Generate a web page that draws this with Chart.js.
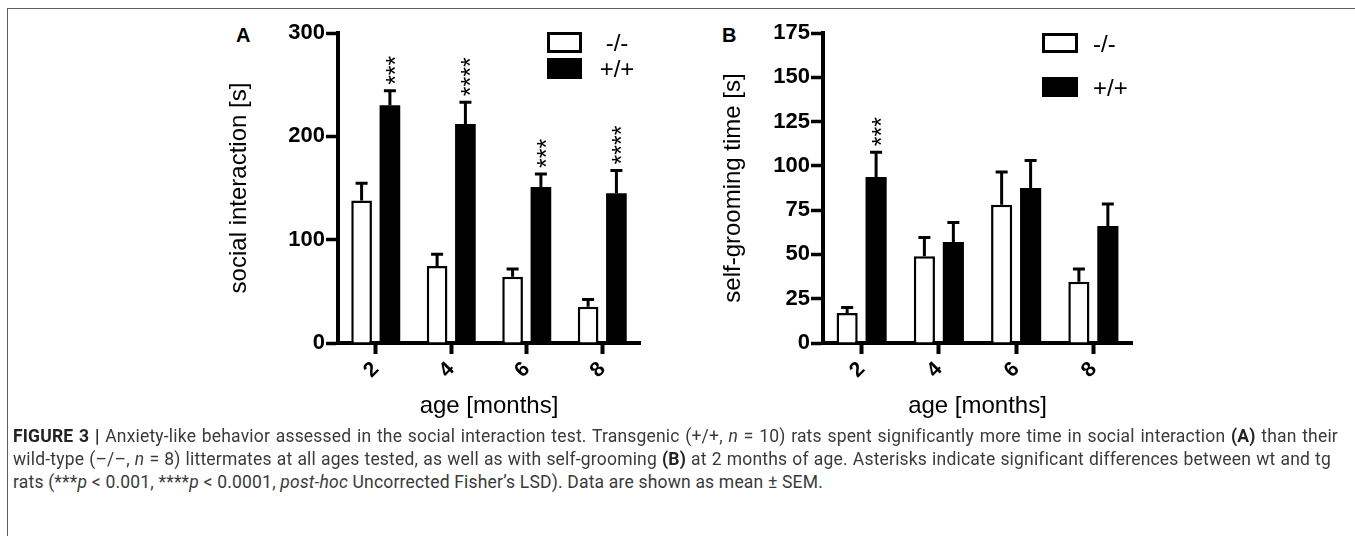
<!DOCTYPE html>
<html><head><meta charset="utf-8">
<script src="https://cdn.jsdelivr.net/npm/chart.js@4.4.1/dist/chart.umd.min.js"></script>
<style>
html,body{margin:0;padding:0;background:#fff;}
body{width:1355px;height:536px;position:relative;overflow:hidden;font-family:"Liberation Sans",Arial,sans-serif;}
#frame{position:absolute;left:7px;top:8px;width:1400px;height:600px;border-top:1.5px solid #5e5e5e;border-left:1.5px solid #5e5e5e;}
.wrap{position:absolute;top:0;height:430px;}
#wa{left:200px;width:460px;}
#wb{left:680px;width:470px;}
.plabel{position:absolute;font-weight:bold;font-size:20px;line-height:24px;color:#000;}
.cap{position:absolute;left:13px;font-family:Roboto,"Liberation Sans",sans-serif;font-size:17.5px;line-height:23px;color:#3a3a3a;white-space:nowrap;}
.cap b{color:#222;font-weight:bold;}
</style>
</head><body>
<div id="frame"></div>
<div class="plabel" style="left:236px;top:23px;">A</div>
<div class="plabel" style="left:722px;top:23px;">B</div>
<div class="wrap" id="wa"><canvas id="ca" width="460" height="430"></canvas></div>
<div class="wrap" id="wb"><canvas id="cb" width="470" height="430"></canvas></div>
<div class="cap" style="top:425px;"><span class="j" data-w="1325"><b>FIGURE 3 |</b> Anxiety-like behavior assessed in the social interaction test. Transgenic (+/+, <i>n</i> = 10) rats spent significantly more time in social interaction <b>(A)</b> than their</span></div>
<div class="cap" style="top:448px;"><span class="j" data-w="1318">wild-type (–/–, <i>n</i> = 8) littermates at all ages tested, as well as with self-grooming <b>(B)</b> at 2 months of age. Asterisks indicate significant differences between wt and tg</span></div>
<div class="cap" style="top:471px;"><span id="l3">rats (***<i>p</i> &lt; 0.001, ****<i>p</i> &lt; 0.0001, <i>post-hoc</i> Uncorrected Fisher’s LSD). Data are shown as mean ± SEM.</span></div>
<script>
// ---- data ----
const ages = ['2', '4', '6', '8'];
const seriesLabels = ['-/-', '+/+'];

const socialKO    = [138, 74.5, 64, 35];
const socialKOsem = [16.5, 11.5, 7.5, 7];
const socialWT    = [230, 212, 151, 145];
const socialWTsem = [14, 21, 12.5, 22];
const socialStars = ['***', '****', '***', '****'];
const socialTicks = [0, 100, 200, 300];

const groomKO    = [17, 49, 78, 34.6];
const groomKOsem = [3, 10.5, 18.5, 7.2];
const groomWT    = [93.7, 57, 87.5, 66];
const groomWTsem = [14, 11, 15.5, 12.5];
const groomStars = ['***', '', '', ''];
const groomTicks = [0, 25, 50, 75, 100, 125, 150, 175];

// caption fitting: condense letters so the last line matches, then justify the full lines
(function () {
  const l3 = document.getElementById('l3');
  const w3 = l3.getBoundingClientRect().width;
  const ls = (810 - w3) / l3.textContent.length;
  document.querySelectorAll('.cap span').forEach(s => { s.style.letterSpacing = ls + 'px'; });
  document.querySelectorAll('.j').forEach(s => {
    const target = +s.dataset.w;
    const w = s.getBoundingClientRect().width;
    const spaces = (s.textContent.match(/ /g) || []).length;
    s.style.wordSpacing = ((target - w) / spaces) + 'px';
  });
})();

const FONT = "'Liberation Sans', Arial, sans-serif";

const errPlugin = {
  id: 'errbars',
  afterDatasetsDraw(chart, args, opts) {
    const ctx = chart.ctx, y = chart.scales.y;
    chart.data.datasets.forEach((ds, di) => {
      const meta = chart.getDatasetMeta(di);
      meta.data.forEach((bar, i) => {
        const top = y.getPixelForValue(ds.data[i] + ds.sem[i]);
        ctx.save();
        ctx.strokeStyle = '#000';
        ctx.lineWidth = 3;
        ctx.beginPath();
        ctx.moveTo(bar.x, bar.y);
        ctx.lineTo(bar.x, top);
        ctx.moveTo(bar.x - 6, top);
        ctx.lineTo(bar.x + 6, top);
        ctx.stroke();
        const s = ds.stars ? ds.stars[i] : '';
        if (s) {
          ctx.translate(bar.x + 14, top - 6);
          ctx.rotate(-Math.PI / 2);
          ctx.font = '25px ' + FONT;
          ctx.fillStyle = '#000';
          ctx.textAlign = 'left';
          ctx.textBaseline = 'alphabetic';
          ctx.fillText(s, 0, 0);
        }
        ctx.restore();
      });
    });
  }
};

const legendPlugin = {
  id: 'boxlegend',
  afterDraw(chart, args, o) {
    const ctx = chart.ctx;
    chart.data.datasets.forEach((ds, di) => {
      const by = o.y[di];
      ctx.save();
      ctx.fillStyle = ds.backgroundColor;
      ctx.fillRect(o.x, by, o.w, o.h);
      ctx.strokeStyle = '#000';
      ctx.lineWidth = 3;
      ctx.strokeRect(o.x + 1.5, by + 1.5, o.w - 3, o.h - 3);
      ctx.fillStyle = '#000';
      ctx.font = '24px ' + FONT;
      ctx.textAlign = o.align;
      ctx.textBaseline = 'middle';
      ctx.fillText(ds.label, o.tx, by + o.h / 2 + 2);
      ctx.restore();
    });
  }
};

function makeChart(id, ko, koSem, wt, wtSem, stars, ticks, yTitle, pad, yWidth, legendOpts) {
  const max = ticks[ticks.length - 1];
  return new Chart(document.getElementById(id), {
    type: 'bar',
    data: {
      labels: ages,
      datasets: [
        { label: seriesLabels[0], data: ko, sem: koSem, backgroundColor: '#ffffff', borderColor: '#000', borderWidth: 2.5,
          categoryPercentage: 0.75, barPercentage: 0.73 },
        { label: seriesLabels[1], data: wt, sem: wtSem, stars: stars, backgroundColor: '#000000', borderColor: '#000', borderWidth: 0,
          categoryPercentage: 0.75, barPercentage: 0.73 }
      ]
    },
    options: {
      responsive: false,
      animation: false,
      devicePixelRatio: 1,
      layout: { padding: pad },
      plugins: { legend: { display: false }, tooltip: { enabled: false }, boxlegend: legendOpts },
      scales: {
        x: {
          offset: true,
          grid: { offset: false, drawOnChartArea: false, drawTicks: true, tickLength: 11, tickWidth: 4, tickColor: '#000' },
          border: { display: true, color: '#000', width: 4 },
          ticks: { color: '#000', font: { family: FONT, size: 21, weight: 'bold' }, minRotation: 45, maxRotation: 45, padding: 3 },
          title: { display: true, text: 'age [months]', color: '#000', font: { family: FONT, size: 24 }, padding: 0 },
          afterFit(s) { s.height = 78; }
        },
        y: {
          min: 0, max: max,
          afterBuildTicks(s) { s.ticks = ticks.map(v => ({ value: v })); },
          grid: { drawOnChartArea: false, drawTicks: true, tickLength: 12, tickWidth: 3.5, tickColor: '#000' },
          border: { display: true, color: '#000', width: 4 },
          ticks: { color: '#000', font: { family: FONT, size: 22, weight: 'bold' }, padding: 1 },
          title: { display: true, text: yTitle, color: '#000', font: { family: FONT, size: 24 }, padding: 0 },
          afterFit(s) { s.width = yWidth; }
        }
      }
    },
    plugins: [errPlugin, legendPlugin]
  });
}

makeChart('ca', socialKO, socialKOsem, socialWT, socialWTsem, socialStars, socialTicks,
  'social interaction [s]', { left: 25, top: 33, right: 20, bottom: 9 }, 113,
  { x: 347, w: 35, h: 21, y: [32, 58], tx: 417, align: 'center' });

makeChart('cb', groomKO, groomKOsem, groomWT, groomWTsem, groomStars, groomTicks,
  'self-grooming time [s]', { left: 39, top: 33, right: 18, bottom: 9 }, 104,
  { x: 362, w: 36, h: 20, y: [33, 77], tx: 413, align: 'left' });
</script>
</body></html>
